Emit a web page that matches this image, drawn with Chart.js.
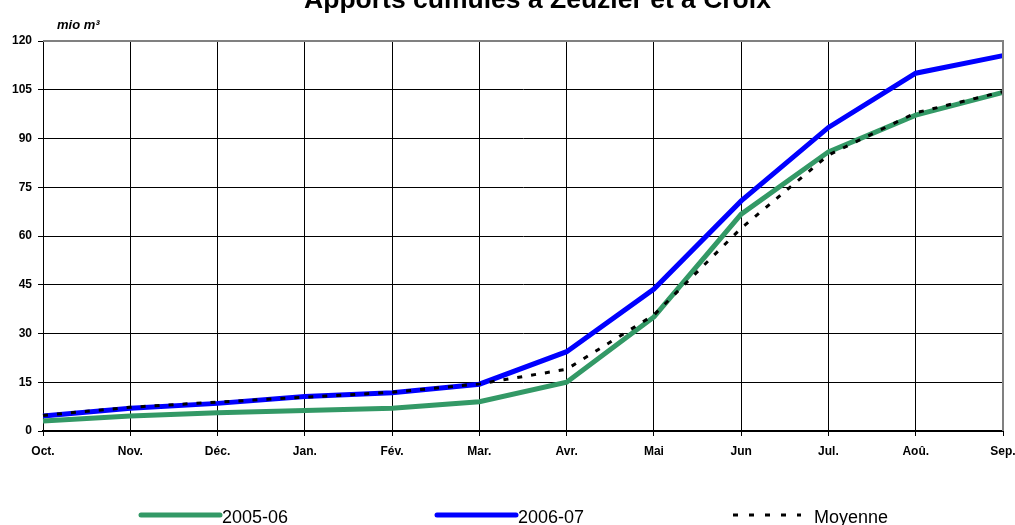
<!DOCTYPE html>
<html>
<head>
<meta charset="utf-8">
<script src="https://cdn.jsdelivr.net/npm/chart.js@4.4.1/dist/chart.umd.min.js"></script>
<style>
html,body{margin:0;padding:0;background:#fff;}
#wrap{position:relative;width:1015px;height:525px;}
</style>
</head>
<body>
<div id="wrap"><canvas id="c" width="1015" height="525"></canvas></div>
<script>
const categories = ["Oct.", "Nov.", "Déc.", "Jan.", "Fév.", "Mar.", "Avr.", "Mai", "Jun", "Jul.", "Aoû.", "Sep."];
const serie2005 = [3.1, 4.6, 5.6, 6.3, 7.0, 9.0, 15.0, 35.1, 66.7, 85.9, 97.2, 104.2];
const serie2006 = [4.6, 7.0, 8.5, 10.6, 11.8, 14.4, 24.4, 43.7, 70.8, 93.4, 110.1, 115.5];
const moyenne   = [4.8, 7.3, 8.9, 10.4, 11.9, 14.5, 19.0, 35.7, 62.4, 84.9, 97.9, 104.4];
const yTicks = [0, 15, 30, 45, 60, 75, 90, 105, 120];
const seriesNames = ["2005-06", "2006-07", "Moyenne"];
const titleText = "Apports cumulés à Zeuzier et à Croix";
const unitText = "mio m³";

const FONT = "'Liberation Sans', Arial, Helvetica, sans-serif";
const GREEN = "#339966", BLUE = "#0000ff";

const decorPlugin = {
  id: "decor",
  afterDraw(chart) {
    const ctx = chart.ctx;
    const a = chart.chartArea;
    ctx.save();
    ctx.strokeStyle = "#808080";
    ctx.lineWidth = 2;
    ctx.beginPath();
    ctx.moveTo(a.left, a.top);
    ctx.lineTo(a.right, a.top);
    ctx.lineTo(a.right, a.bottom);
    ctx.stroke();
    ctx.fillStyle = "#000";
    ctx.font = "bold 26.5px " + FONT;
    ctx.textAlign = "center";
    ctx.textBaseline = "alphabetic";
    ctx.fillText(titleText, 537.5, 8);
    ctx.font = "italic bold 13px " + FONT;
    ctx.textAlign = "left";
    ctx.fillText(unitText, 57, 29);
    const items = [
      {x0: 141, x1: 220, color: GREEN, width: 5, dash: [], tx: 222},
      {x0: 437, x1: 516, color: BLUE, width: 5, dash: [], tx: 518},
      {x0: 733, x1: 801, color: "#000", width: 3, dash: [5, 11], tx: 814}
    ];
    const ly = 515;
    items.forEach((it, i) => {
      ctx.strokeStyle = it.color;
      ctx.lineWidth = it.width;
      ctx.lineCap = it.dash.length ? "butt" : "round";
      ctx.setLineDash(it.dash);
      ctx.beginPath();
      ctx.moveTo(it.x0, ly);
      ctx.lineTo(it.x1, ly);
      ctx.stroke();
      ctx.setLineDash([]);
      ctx.fillStyle = "#000";
      ctx.font = "18px " + FONT;
      ctx.textBaseline = "middle";
      ctx.textAlign = "left";
      ctx.fillText(seriesNames[i], it.tx, 518);
    });
    ctx.restore();
  }
};

new Chart(document.getElementById("c"), {
  type: "line",
  data: {
    labels: categories,
    datasets: [
      {label: seriesNames[0], data: serie2005, borderColor: GREEN, borderWidth: 5, pointRadius: 0, tension: 0, order: 1, fill: false},
      {label: seriesNames[1], data: serie2006, borderColor: BLUE, borderWidth: 5, pointRadius: 0, tension: 0, order: 2, fill: false},
      {label: seriesNames[2], data: moyenne, borderColor: "#000", borderWidth: 3, borderDash: [5, 9], pointRadius: 0, tension: 0, order: 0, fill: false}
    ]
  },
  options: {
    responsive: false,
    animation: false,
    devicePixelRatio: 1,
    layout: {padding: {top: 41, left: 0, right: 12, bottom: 0}},
    plugins: {legend: {display: false}, title: {display: false}, tooltip: {enabled: false}},
    scales: {
      x: {
        type: "category",
        offset: false,
        grid: {color: "#000", lineWidth: 1, tickLength: 5, drawTicks: true},
        border: {color: "#000", width: 2},
        ticks: {color: "#000", font: {family: FONT, size: 12, weight: "bold"}, padding: 8, maxRotation: 0, autoSkip: false},
        afterFit(s) { s.height = 94; s.paddingLeft = 0; s.paddingRight = 0; }
      },
      y: {
        min: 0, max: 120,
        afterBuildTicks(s) { s.ticks = yTicks.map(v => ({value: v})); },
        grid: {color: "#000", lineWidth: 1, tickLength: 5, drawTicks: true},
        border: {color: "#000", width: 1},
        ticks: {color: "#000", font: {family: FONT, size: 12, weight: "bold"}, padding: 6},
        afterFit(s) { s.width = 43; s.paddingTop = 0; s.paddingBottom = 0; }
      }
    }
  },
  plugins: [decorPlugin]
});
</script>
</body>
</html>
